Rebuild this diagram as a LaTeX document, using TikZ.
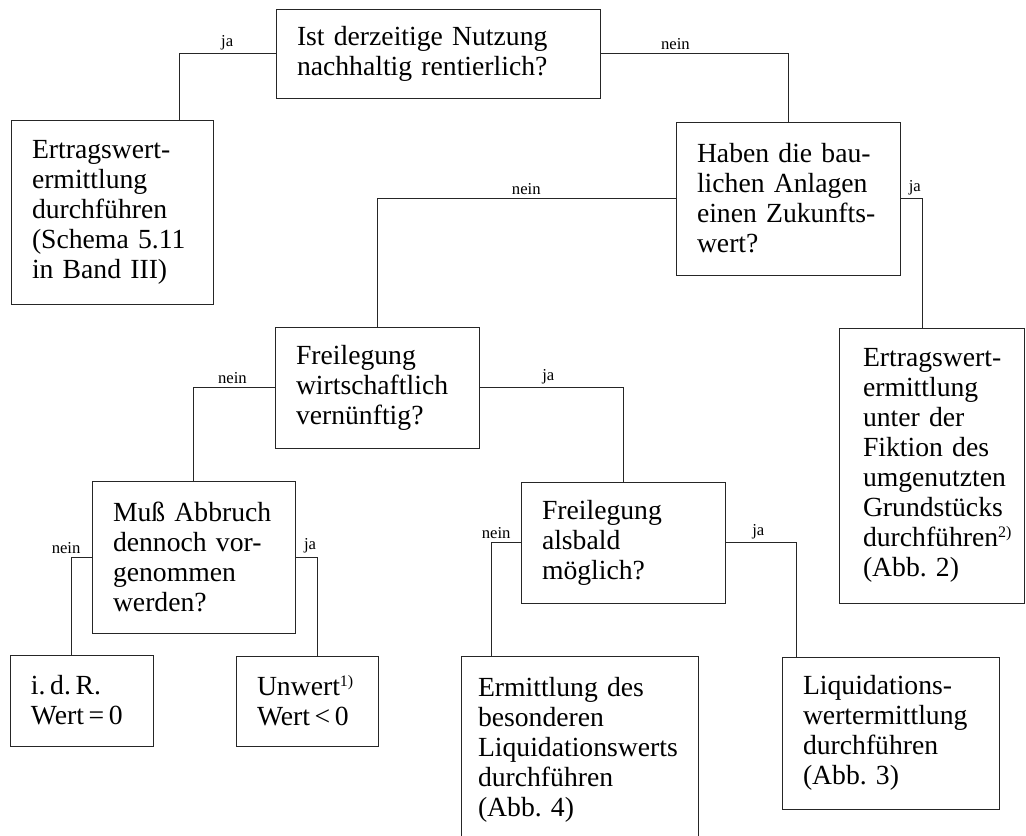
\documentclass[tikz,border=0pt]{standalone}
\usepackage{fontspec}
\setmainfont{Liberation Serif}
\usetikzlibrary{calc}
\hyphenpenalty=10000
\exhyphenpenalty=10000
\newcommand{\fnmark}[1]{\raisebox{0.7ex}{\fontsize{12}{12}\selectfont #1}}

\begin{document}
\begin{tikzpicture}[x=0.75pt, y=-0.75pt,
    block/.style={rectangle, draw=black!85, line width=0.6pt, align=left, inner xsep=15.75pt, inner ysep=2pt, font=\fontsize{20.75}{22.5}\selectfont},
    lbl/.style={above, inner sep=2.5pt, font=\fontsize{12.5}{14}\selectfont},
    conn/.style={draw=black!85, line width=0.6pt}]

    \useasboundingbox (0,0) rectangle (1026,836);
    \clip (0,0) rectangle (1026,836);

    \node[block, text width=211.5pt, minimum height=66.75pt] (q1) at (438,53.5) {Ist derzeitige Nutzung\\nachhaltig rentierlich?};
    \node[block, text width=120pt, minimum height=138pt] (l1) at (112,212) {Ertragswert-\\ermittlung\\durchführen\\(Schema 5.11\\in Band III)};
    \node[block, text width=136.5pt, minimum height=114.75pt] (q2) at (788,198.5) {Haben die bau-\\lichen Anlagen\\einen Zukunfts-\\wert?};
    \node[block, inner xsep=18pt, text width=102.75pt, minimum height=206.25pt] (r) at (931.5,465.5) {Ertragswert-\\ermittlung\\unter der\\Fiktion des\\umgenutzten\\Grundstücks\\durchführen\fnmark{2)}\\(Abb.~2)};
    \node[block, text width=121.5pt, minimum height=90.75pt] (q3) at (377,387.5) {Freilegung\\wirtschaftlich\\vernünftig?};
    \node[block, text width=120.75pt, minimum height=114pt] (q4) at (193.5,557) {Muß Abbruch\\dennoch vor-\\genommen\\werden?};
    \node[block, text width=121.5pt, minimum height=90.75pt] (q5) at (623,542.5) {Freilegung\\alsbald\\möglich?};
    \node[block, text width=75.75pt, minimum height=68.25pt] (b1) at (81.5,700.5) {i.\,d.\,R.\\Wert\,=\,0};
    \node[block, text width=75pt, minimum height=67.5pt] (b2) at (307,701) {Unwert\fnmark{1)}\\Wert\,<\,0};
    \node[block, inner xsep=12.75pt, text width=152.25pt, minimum height=141pt] (b3) at (579.5,750) {Ermittlung des\\besonderen\\Liquidationswerts\\durchführen\\(Abb.~4)};
    \node[block, text width=131.25pt, minimum height=114pt] (b4) at (890.5,733) {Liquidations-\\wertermittlung\\durchführen\\(Abb.~3)};

    \draw[conn] (q1.west) -| node[lbl, pos=0.25] {ja} ($(l1.north west)!0.83!(l1.north east)$);
    \draw[conn] (q1.east) -| node[lbl, pos=0.2] {nein} (q2.north);
    \draw[conn] (q2.west) -| node[lbl, pos=0.25] {nein} (q3.north);
    \draw[conn] (q2.east) -| node[lbl, pos=0.33] {ja} ($(r.north west)!0.45!(r.north east)$);
    \draw[conn] (q3.west) -| node[lbl, pos=0.26] {nein} (q4.north);
    \draw[conn] (q3.east) -| node[lbl, pos=0.24] {ja} (q5.north);
    \draw[conn] (q4.west) -| node[lbl, pos=0.5, xshift=-4pt] {nein} ($(b1.north west)!0.43!(b1.north east)$);
    \draw[conn] (q4.east) -| node[lbl, pos=0.34] {ja} ($(b2.north west)!0.57!(b2.north east)$);
    \draw[conn] (q5.west) -| node[lbl, pos=0.42] {nein} ($(b3.north west)!0.13!(b3.north east)$);
    \draw[conn] (q5.east) -| node[lbl, pos=0.23] {ja} ($(b4.north west)!0.07!(b4.north east)$);
\end{tikzpicture}
\end{document}
